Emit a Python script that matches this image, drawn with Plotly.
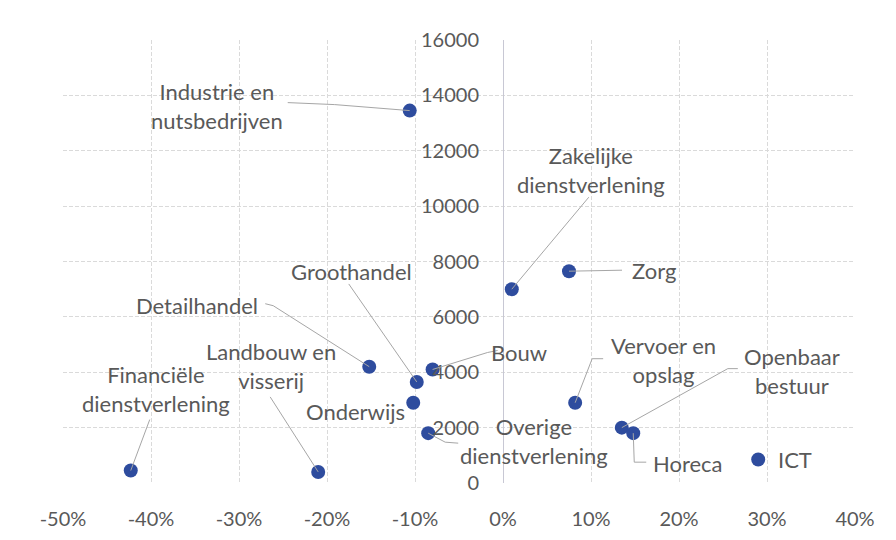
import plotly.graph_objects as go

# Sectors: employment change (%) vs number of jobs
sectors = [
    "Industrie en<br>nutsbedrijven", "Zakelijke<br>dienstverlening", "Zorg",
    "Groothandel", "Detailhandel", "Bouw", "Landbouw en<br>visserij",
    "Financiële<br>dienstverlening", "Onderwijs", "Overige<br>dienstverlening",
    "Vervoer en<br>opslag", "Openbaar<br>bestuur", "Horeca", "ICT",
]
growth = [-0.106, 0.010, 0.075, -0.098, -0.152, -0.080, -0.210,
          -0.423, -0.102, -0.085, 0.082, 0.135, 0.148, 0.290]
jobs = [13450, 7000, 7650, 3650, 4200, 4100, 400,
        450, 2900, 1800, 2900, 2000, 1800, 850]

x_ticks = [-0.5, -0.4, -0.3, -0.2, -0.1, 0, 0.1, 0.2, 0.3, 0.4]
x_ticktext = ["-50%", "-40%", "-30%", "-20%", "-10%", "0%", "10%", "20%", "30%", "40%"]
y_ticks = [0, 2000, 4000, 6000, 8000, 10000, 12000, 14000, 16000]
y_ticktext = [str(v) for v in y_ticks]

# label placement: text centre offset from the point (screen px, y down)
label_offsets = [(-193, -5), (79, -119), (85, -1), (-65, -110), (-172, -61),
                 (86, -17), (-47, -106), (25, -82), (-58, 9), (106, 8),
                 (88, -43), (170, -57), (55, 30), (37, 0)]
# leader lines (screen px from the point, y down); None = no line
leaders = [
    [(-75, -6), (-122, -8)],
    [(77, -92)],
    [(53, -1)],
    [(-68, -98)],
    [(-96, -61), (-104, -63)],
    [(55, -17), (65, -19)],
    [(-48, -75)],
    [(19, -51)],
    None,
    [(17, 9), (30, 10)],
    [(17, -44), (28, -44)],
    [(106, -59), (116, -59)],
    [(1, 29), (13, 29)],
    None,
]

FONT = "Lato"
TXT = "#595959"
GRID = "#DADADA"

fig = go.Figure()

shapes = []
for gx, jy, pts in zip(growth, jobs, leaders):
    if not pts:
        continue
    path = "M0,0 " + " ".join(f"L{dx},{-dy}" for dx, dy in pts)
    shapes.append(dict(type="path", xref="x", yref="y", xsizemode="pixel", ysizemode="pixel",
                       xanchor=gx, yanchor=jy, path=path,
                       line=dict(color="#A6A6A6", width=1), layer="above"))

fig.add_trace(go.Scatter(
    x=growth, y=jobs, mode="markers",
    marker=dict(size=14, color="#2E4C9E"),
    hovertext=[s.replace("<br>", " ") for s in sectors], hoverinfo="text",
    showlegend=False,
))

annotations = []
for s, gx, jy, (dx, dy) in zip(sectors, growth, jobs, label_offsets):
    annotations.append(dict(x=gx, y=jy, xref="x", yref="y", text=s, showarrow=False,
                            xshift=dx, yshift=-dy, align="center", borderpad=0,
                            font=dict(family=FONT, size=22, color=TXT)))

# page body adds an 8px offset, so the margins are shifted to compensate
fig.update_layout(
    width=896, height=540,
    margin=dict(l=55, r=49, t=32, b=65),
    plot_bgcolor="white", paper_bgcolor="white",
    shapes=shapes, annotations=annotations,
    font=dict(family=FONT, size=20, color=TXT),
)

fig.update_xaxes(
    range=[-0.5, 0.4], tickvals=x_ticks, ticktext=x_ticktext,
    showgrid=True, gridcolor=GRID, griddash="4px,2px", gridwidth=1,
    zeroline=False, showline=False, ticks="", ticklabelstandoff=22,
    automargin=False,
    tickfont=dict(family=FONT, size=20, color=TXT),
)
fig.update_yaxes(
    range=[0, 16000], tickvals=y_ticks, ticktext=y_ticktext,
    showgrid=True, gridcolor=GRID, griddash="4px,2px", gridwidth=1,
    zeroline=False, showline=True, linecolor="#C8C8D4", linewidth=1,
    anchor="free", position=5 / 9, ticks="", ticklabelstandoff=20,
    automargin=False,
    tickfont=dict(family=FONT, size=20, color=TXT),
)

fig.write_html("out.html")
